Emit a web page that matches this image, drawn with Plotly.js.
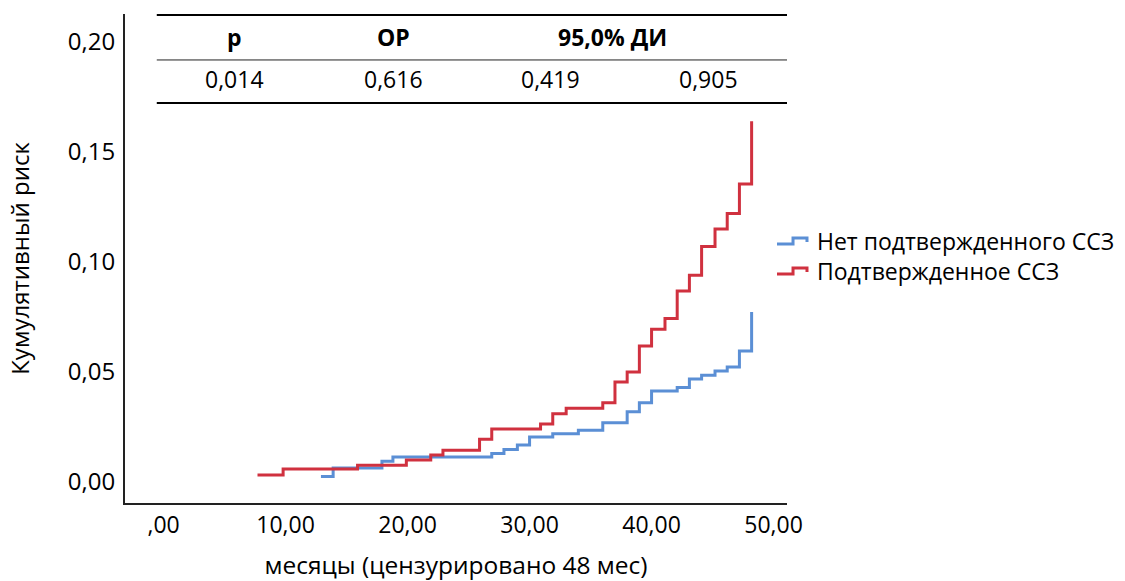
<!DOCTYPE html>
<html>
<head>
<meta charset="utf-8">
<script src="https://cdn.plot.ly/plotly-3.0.1.min.js"></script>
<style>html,body{margin:0;padding:0;background:#fff;}#chart{width:1125px;height:581px;}</style>
</head>
<body>
<div id="chart"></div>
<script>
// Series: months and cumulative risk
const noConfirmedMonths = [12.9, 13.9, 17.9, 18.8, 26.9, 27.9, 29.0, 30.0, 31.9, 34.0, 36.0, 38.0, 39.0, 40.0, 42.1, 43.1, 44.1, 45.2, 46.2, 47.2, 48.2];
const noConfirmedRisk   = [0.0025, 0.0064, 0.0095, 0.0114, 0.0130, 0.0148, 0.0168, 0.0205, 0.0220, 0.0236, 0.0270, 0.0320, 0.0360, 0.0414, 0.0430, 0.0468, 0.0486, 0.0505, 0.0523, 0.0596, 0.0773];
const confirmedMonths   = [7.7, 9.8, 15.9, 19.9, 21.9, 22.9, 25.9, 26.9, 30.9, 31.9, 33.0, 36.0, 37.0, 38.0, 39.0, 40.0, 41.1, 42.1, 43.1, 44.1, 45.2, 46.2, 47.2, 48.2];
const confirmedRisk     = [0.0032, 0.0059, 0.0077, 0.0100, 0.0123, 0.0145, 0.0195, 0.0241, 0.0264, 0.0310, 0.0336, 0.0360, 0.0455, 0.0500, 0.0618, 0.0695, 0.0743, 0.0868, 0.0940, 0.1070, 0.1150, 0.1220, 0.1355, 0.1640];
const seriesNames = ["Нет подтвержденного ССЗ", "Подтвержденное ССЗ"];

// Tick labels
const xTickVals = [0, 10, 20, 30, 40, 50];
const xTickText = [",00", "10,00", "20,00", "30,00", "40,00", "50,00"];
const yTickVals = [0, 0.05, 0.10, 0.15, 0.20];
const yTickText = ["0,00", "0,05", "0,10", "0,15", "0,20"];

// Table
const tableHeaders = ["p", "ОР", "95,0% ДИ"];
const tableValues = ["0,014", "0,616", "0,419", "0,905"];

const FONT = "Open Sans, sans-serif";
const COLORS = ["#5b8fd5", "#d0313f"];

const traces = [
  {x: noConfirmedMonths, y: noConfirmedRisk, name: seriesNames[0], type: "scatter", mode: "lines",
   line: {shape: "hv", color: COLORS[0], width: 3}},
  {x: confirmedMonths, y: confirmedRisk, name: seriesNames[1], type: "scatter", mode: "lines",
   line: {shape: "hv", color: COLORS[1], width: 3}}
];

const hdrX = [0.1647, 0.405, 0.737];
const valX = [0.1647, 0.405, 0.6435, 0.8807];
const annotations = [];
tableHeaders.forEach((t, i) => annotations.push({
  text: "<b>" + t + "</b>", xref: "paper", yref: "paper", x: hdrX[i], y: 0.953,
  showarrow: false, xanchor: "center", yanchor: "middle", font: {family: FONT, size: 23, color: "#000"}
}));
tableValues.forEach((t, i) => annotations.push({
  text: t, xref: "paper", yref: "paper", x: valX[i], y: 0.867,
  showarrow: false, xanchor: "center", yanchor: "middle", font: {family: FONT, size: 23, color: "#000"}
}));

const shapes = [
  {type: "line", xref: "paper", yref: "paper", x0: 0.048, x1: 1.0, y0: 0.998, y1: 0.998, line: {color: "#000", width: 2}},
  {type: "line", xref: "paper", yref: "paper", x0: 0.048, x1: 1.0, y0: 0.906, y1: 0.906, line: {color: "#222", width: 1}},
  {type: "line", xref: "paper", yref: "paper", x0: 0.048, x1: 1.0, y0: 0.818, y1: 0.818, line: {color: "#000", width: 2}}
];

// Manual legend (step glyphs + one two-line label)
const legendGlyphs = [
  {low: 0.5297, high: 0.5419, tip: 0.5337},
  {low: 0.4683, high: 0.4806, tip: 0.4724}
];
legendGlyphs.forEach((r, i) => {
  shapes.push({type: "path", xref: "paper", yref: "paper",
    path: `M 0.9849 ${r.low} L 1.0091 ${r.low} L 1.0091 ${r.high} L 1.0302 ${r.high} L 1.0302 ${r.tip}`,
    line: {color: COLORS[i], width: 3}});
});
annotations.push({text: seriesNames.join("<br>"), xref: "paper", yref: "paper", x: 1.0423, y: 0.5051,
  showarrow: false, xanchor: "left", yanchor: "middle", align: "left",
  font: {family: FONT, size: 23, color: "#000"}});

const layout = {
  width: 1125, height: 581,
  margin: {l: 125, r: 338, t: 14, b: 78, pad: 0},
  paper_bgcolor: "#fff", plot_bgcolor: "#fff",
  font: {family: FONT, size: 24, color: "#000"},
  showlegend: false,
  xaxis: {range: [-3.16, 51.1], tickvals: xTickVals, ticktext: xTickText, showgrid: false, zeroline: false,
          showline: true, linecolor: "#222", linewidth: 2, ticks: "", ticklen: 0,
          tickfont: {family: FONT, size: 23, color: "#000"},
          title: {text: "месяцы (цензурировано 48 мес)", font: {family: FONT, size: 24.5, color: "#000"}, standoff: 24}},
  yaxis: {range: [-0.0095, 0.2127], tickvals: yTickVals, ticktext: yTickText, showgrid: false, zeroline: false,
          showline: true, linecolor: "#222", linewidth: 2, ticks: "", ticklen: 0, ticklabelstandoff: 3,
          tickfont: {family: FONT, size: 24, color: "#000"},
          title: {text: "Кумулятивный риск", font: {family: FONT, size: 24, color: "#000"}, standoff: 31}},
  annotations: annotations,
  shapes: shapes
};

Plotly.newPlot("chart", traces, layout, {displayModeBar: false, staticPlot: true});
</script>
</body>
</html>
